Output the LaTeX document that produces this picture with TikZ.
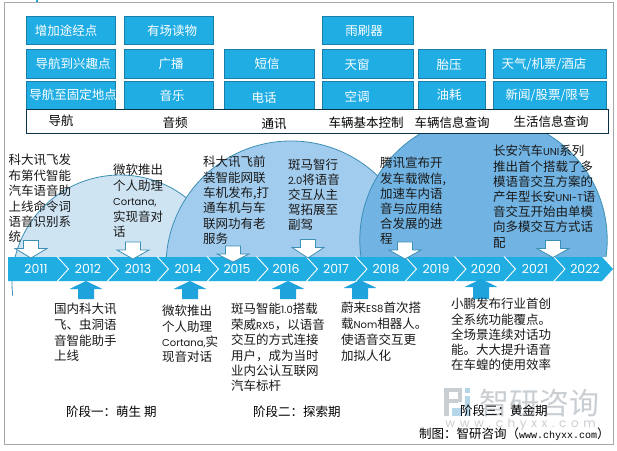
\documentclass[tikz,border=0pt]{standalone}
\usepackage{fontspec}
\setmainfont{Noto Sans CJK SC}
\newfontfamily\latf{Poppins}
\newfontfamily\mon{Liberation Mono}
\newcommand{\lat}[1]{{\latf\fontsize{10}{10}\selectfont #1}}
\definecolor{boxblue}{HTML}{1FADE4}
\definecolor{boxedge}{HTML}{1A7FA8}
\definecolor{barblue}{HTML}{1FADE2}
\definecolor{upblue}{HTML}{1FA3DC}
\definecolor{circa}{HTML}{CFE4F3}
\definecolor{circb}{HTML}{A2CCED}
\definecolor{circc}{HTML}{71B3E2}
\definecolor{circedge}{HTML}{3C8FB5}
\definecolor{wm}{HTML}{C9CED3}
\definecolor{wmb}{HTML}{B5D5E8}
\tikzset{
  frameline/.style={draw=black!35,line width=0.9pt},
  funcbox/.style={draw=boxedge,fill=boxblue,line width=0.8pt},
  lbl/.style={inner sep=0pt,text height=9.4pt,text depth=0pt,font=\fontsize{12.5}{15}\selectfont},
  wlbl/.style={lbl,text=white},
  yearlbl/.style={inner sep=0pt,text=white,text height=9pt,text depth=0pt,font=\latf\fontsize{12.5}{15}\selectfont},
  txt/.style={inner sep=0pt,anchor=north west,align=left,text=black!90},
  dnarrow/.style={draw=circedge,fill=white,line width=0.8pt},
  uparrow/.style={fill=upblue,draw=none},
  circ/.style={draw=circedge,line width=0.8pt},
}
\newcommand{\tb}[5]{\node[txt,font=\fontsize{12.5}{#5}\selectfont] (#1) at (#2,#3-7.3) {\rule{0pt}{12pt}#4};}
\newcommand{\dn}[3]{\draw[dnarrow] (#1-7.5,#2) -- (#1+7.5,#2) -- (#1+7.5,#2+8) -- (#1+16,#2+8) -- (#1,#3) -- (#1-16,#2+8) -- (#1-7.5,#2+8) -- cycle;}
\newcommand{\up}[2]{\fill[uparrow] (#1,#2) -- (#1+16.5,#2+8) -- (#1+8,#2+8) -- (#1+8,299) -- (#1-8,299) -- (#1-8,#2+8) -- (#1-16.5,#2+8) -- cycle;}
\begin{document}
\begin{tikzpicture}[x=1pt,y=-1pt]
\useasboundingbox (0,0) rectangle (617,450);
\fill[white] (0,0) rectangle (617,450);
\draw[frameline] (4.5,2.5) rectangle (613,444);
\fill[upblue] (36,0) rectangle (38,2);
% circles
\begin{scope}
\clip (0,100) rectangle (617,256.5);
\fill[circa] (120,283) circle[radius=108];
\draw[circ] (120,283) circle[radius=108];
\fill[circb] (291,266) circle[radius=125];
\draw[circ] (291,266) circle[radius=125];
\fill[circc] (483.5,240) circle[radius=123.7];
\draw[circ] (483.5,240) circle[radius=123.7];
\end{scope}
\begin{scope}
\clip (0,281) rectangle (40,295);
\draw[circ] (120,283) circle[radius=108];
\end{scope}
% function boxes
\foreach \xa/\xb/\ya/\yb in {26/115.7/16/44.7,26/115.7/49.5/78,26/115.7/81/109,
  124.3/213.7/16/44.7,124.3/213.7/49.5/78,124.3/213.7/81/109,
  224/314/49.5/78,224/314/81/109,
  322/413/16/44.7,322/413/49.5/78,322/413/81/109,
  418/485/49.5/78,418/485/81/109,
  493/606/49.5/78,493/606/81/109}
  {\draw[funcbox] (\xa,\ya) rectangle (\xb,\yb);}
\draw[fill=white,draw=black!60!boxedge,line width=0.8pt] (26,109) rectangle (608,133.5);
\node[wlbl] (a1) at (66,31) {增加途经点};
\node[wlbl] (a2) at (73,64) {导航到兴趣点};
\node[wlbl] (a3) at (73,95) {导航至固定地点};
\node[wlbl] (b1) at (172,31) {有场读物};
\node[wlbl] (b2) at (171,64) {广播};
\node[wlbl] (b3) at (172,96) {音乐};
\node[wlbl] (c2) at (267,64) {短信};
\node[wlbl] (c3) at (264,98) {电话};
\node[wlbl] (d1) at (364,31) {雨刷器};
\node[wlbl] (d2) at (357,64.5) {天窗};
\node[wlbl] (d3) at (357,97) {空调};
\node[wlbl] (e2) at (449,65) {胎压};
\node[wlbl] (e3) at (449,95) {油耗};
\node[wlbl] (f2) at (544,64) {天气/机票/酒店};
\node[wlbl] (f3) at (548,95) {新闻/股票/限号};
\node[lbl] (g1) at (61,121) {导航};
\node[lbl] (g2) at (175,123) {音频};
\node[lbl] (g3) at (274,124) {通讯};
\node[lbl] (g4) at (366,123) {车辆基本控制};
\node[lbl] (g5) at (452,123) {车辆信息查询};
\node[lbl] (g6) at (551,122) {生活信息查询};
% timeline
\fill[barblue] (8,257) -- (602,257) -- (613,269) -- (602,281) -- (8,281) -- cycle;
\foreach \s in {57,107,157,207,256.5,306,355.5,405,454.5,504,553.5}
  {\draw[white,line width=0.9pt] (\s,256.5) -- (\s+11.5,269) -- (\s,281.5);}
\foreach \n/\x in {2011/36,2012/88,2013/138,2014/188,2015/237,2016/286,2017/336,2018/386,2019/436,2020/486,2021/535,2022/585}
  {\node[yearlbl] (y\n) at (\x,269) {\n};}
% arrows
\dn{31}{240.5}{258}
\dn{133}{242}{259}
\dn{233}{246}{262}
\dn{308}{239.5}{258}
\dn{405}{242}{259}
\dn{553}{240.5}{257.5}
\up{86}{281}
\up{190}{281}
\up{288}{281}
\up{360}{280}
\up{481}{279}
% watermark
\fill[wm] (444,388) rectangle (462,392);
\fill[wm] (444,392) rectangle (449,416);
\fill[wm] (458,392) rectangle (462,402);
\fill[wm] (449,399) rectangle (458,403);
\fill[wmb] (465,388) rectangle (470,393);
\fill[wmb] (465,396) rectangle (470,416);
\fill[wmb] (452,408) rectangle (462,416);
\node[lbl,text=wm,font=\fontsize{30}{30}\selectfont,text height=28pt] (wmt) at (539,400) {智研咨询};
\node[inner sep=0pt,text=wm,font=\latf\fontsize{12}{12}\selectfont,text height=9pt,text depth=0pt] (wmu) at (520.5,423) {w\hskip 4.6pt w\hskip 4.6pt w\hskip 4.6pt .\hskip 4.6pt c\hskip 4.6pt h\hskip 4.6pt y\hskip 4.6pt x\hskip 4.6pt x\hskip 4.6pt .\hskip 4.6pt c\hskip 4.6pt o\hskip 4.6pt m};
% texts
\tb{ta}{8.5}{160}{科大讯飞发\\布第代智能\\汽车语音助\\上线命令词\\语音识别系\\统}{15.4}
\tb{tb}{113}{170}{微软推出\\个人助理\\\lat{Cortana,}\\实现音对\\话}{15.5}
\tb{tc}{203}{162}{科大讯飞前\\装智能网联\\车机发布,打\\通车机与车\\联网功有老\\服务}{15.3}
\tb{td}{288}{165}{斑马智行\\\lat{2.0}将语音\\交互从主\\驾拓展至\\副驾}{15}
\tb{te}{380}{163}{腾讯宣布开\\发车载微信,\\加速车内语\\音与应用结\\合发展的进\\程}{15.2}
\tb{tf}{493}{151}{长安汽车\lat{UNI}系列\\推出首个搭载了多\\模语音交互方案的\\产年型长安\lat{UNI-T}语\\音交互开始由单模\\向多模交互方式话\\配}{15.2}
\tb{tg}{54}{309}{国内科大讯\\飞、虫洞语\\音智能助手\\上线}{15.6}
\tb{th}{162}{311}{微软推出\\个人助理\\\lat{Cortana,}实\\现音对话}{15.3}
\tb{ti}{231}{309}{斑马智能\lat{1.0}搭载\\荣威\lat{RX5}，以语音\\交互的方式连接\\用户，成为当时\\业内公认互联网\\汽车标杆}{15.4}
\tb{tj}{341}{308}{蔚来\lat{ES8}首次搭\\载\lat{Nom}相器人。\\使语音交互更\\加拟人化}{15.7}
\tb{tk}{451}{304}{小鹏发布行业首创\\全系统功能覆点。\\全场景连续对话功\\能。大大提升语音\\在车蝗的使用效率}{15.2}
\node[lbl,anchor=west] (s1) at (66,412) {阶段一：萌生 期};
\node[lbl,anchor=west] (s2) at (253,412) {阶段二：探索期};
\node[lbl,anchor=west] (s3) at (460,411) {阶段三：黄金期};
\node[lbl,anchor=west] (src) at (419,434) {制图：智研咨询（{\mon\fontsize{10}{10}\selectfont www.chyxx.com}）};
\end{tikzpicture}
\end{document}
